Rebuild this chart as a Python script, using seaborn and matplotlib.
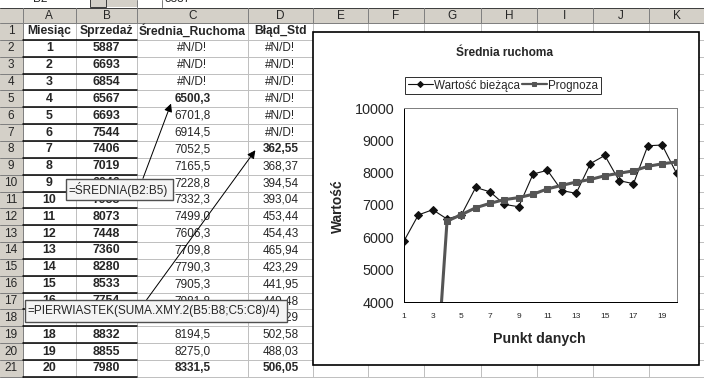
import matplotlib
matplotlib.use("Agg")
import matplotlib.pyplot as plt
from matplotlib.patches import Rectangle
import seaborn as sns
import pandas as pd

# dane z arkusza
miesiac = list(range(1, 21))
sprzedaz = [5887, 6693, 6854, 6567, 6693, 7544, 7406, 7019, 6946, 7958,
            8073, 7448, 7360, 8280, 8533, 7754, 7659, 8832, 8855, 7980]
srednia = [None, None, None, 6500.3, 6701.8, 6914.5, 7052.5, 7165.5, 7228.8, 7332.3,
           7499.0, 7606.3, 7709.8, 7790.3, 7905.3, 7981.8, 8056.5, 8194.5, 8275.0, 8331.5]
blad_std = [None, None, None, None, None, None, 362.55, 368.37, 394.54, 393.04,
            453.44, 454.43, 465.94, 423.29, 441.95, 449.48, 459.29, 502.58, 488.03, 506.05]
naglowki = ['Miesiąc', 'Sprzedaż', 'Średnia_Ruchoma', 'Błąd_Std']
kolumny = ['A', 'B', 'C', 'D', 'E', 'F', 'G', 'H', 'I', 'J', 'K']
y_ticks = [4000, 5000, 6000, 7000, 8000, 9000, 10000]
x_labels = [1, 3, 5, 7, 9, 11, 13, 15, 17, 19]

sns.set_style('white')
plt.rcParams['font.family'] = ['Liberation Sans', 'DejaVu Sans']

fig = plt.figure(figsize=(7.04, 3.78), dpi=100)
fig.patch.set_facecolor('white')

# ---- arkusz (wspolrzedne w pikselach) ----
sh = fig.add_axes([0, 0, 1, 1])
sh.set_xlim(0, 704)
sh.set_ylim(378, 0)
sh.axis('off')

xs = [0, 22.5, 76, 137, 248, 313, 368, 424, 481, 537, 593, 649, 705]
top = 23
rh = 16.85
szary = '#d4d0c8'
px = 0.72  # 1 piksel w punktach


def yc(r):
    return top + (r - 0.5) * rh


# pasek formuly
sh.add_patch(Rectangle((90, -6), 16, 12.5, fc=szary, ec='#404040', lw=px))
sh.add_patch(Rectangle((107, -6), 30, 12.5, fc=szary, ec='none'))
sh.plot([137, 137], [0, 7], color='#808080', lw=px)
sh.plot([162, 162], [0, 7], color='#808080', lw=px)
sh.text(40, -1.5, 'B2', ha='center', va='center', fontsize=8.5)
sh.text(164, -1.5, '5887', ha='left', va='center', fontsize=8.5)
sh.plot([0, 704], [7.5, 7.5], color='#404040', lw=px)

# naglowki kolumn i wierszy
sh.add_patch(Rectangle((0, 8), 704, top - 8, fc=szary, ec='none'))
sh.add_patch(Rectangle((0, top), xs[1], 378 - top, fc=szary, ec='none'))
for i, k in enumerate(kolumny):
    sh.text((xs[i + 1] + xs[i + 2]) / 2, 15.8, k, ha='center', va='center', fontsize=8.5)
for x in xs[1:]:
    sh.plot([x, x], [8, top], color='#808080', lw=px)
sh.plot([0, 704], [top, top], color='#808080', lw=px)
for r in range(1, 22):
    sh.text(11, yc(r), str(r), ha='center', va='center', fontsize=8.5)
    sh.plot([0, xs[1]], [top + r * rh, top + r * rh], color='#808080', lw=px)
sh.plot([xs[1], xs[1]], [top, 378], color='#808080', lw=px)

# siatka komorek
for x in xs[2:]:
    sh.plot([x, x], [top, 378], color='#c0c0c0', lw=px, zorder=1)
for r in range(1, 22):
    sh.plot([xs[1], 704], [top + r * rh, top + r * rh], color='#c0c0c0', lw=px, zorder=1)
# obramowania kolumn A-B
for r in range(1, 22):
    sh.plot([xs[1], xs[3]], [top + r * rh, top + r * rh], color='black', lw=1.1, zorder=2)

# tresc komorek
cx = [(xs[i] + xs[i + 1]) / 2 for i in range(1, 5)]
for i, h in enumerate(naglowki):
    sh.text(cx[i], yc(1), h, ha='center', va='center', fontsize=8.7, weight='bold')
for i in range(20):
    r = i + 2
    sh.text(cx[0], yc(r), str(miesiac[i]), ha='center', va='center', fontsize=8.9, weight='bold')
    sh.text(cx[1], yc(r), str(sprzedaz[i]), ha='center', va='center', fontsize=8.9, weight='bold')
    s = '#N/D!' if srednia[i] is None else f"{srednia[i]:.1f}".replace('.', ',')
    b = '#N/D!' if blad_std[i] is None else f"{blad_std[i]:.2f}".replace('.', ',')
    ws = 'bold' if r in (5, 21) else 'normal'
    wb = 'bold' if r in (8, 21) else 'normal'
    sh.text(cx[2], yc(r), s, ha='center', va='center', fontsize=8.5, weight=ws)
    sh.text(cx[3], yc(r), b, ha='center', va='center', fontsize=8.5, weight=wb)

# objasnienia ze strzalkami
sh.annotate('', xy=(172, 101), xytext=(142, 181),
            arrowprops=dict(arrowstyle='-|>', color='black', lw=px, mutation_scale=12))
sh.annotate('', xy=(257, 148), xytext=(145, 302),
            arrowprops=dict(arrowstyle='-|>', color='black', lw=px, mutation_scale=12))
sh.add_patch(Rectangle((66, 179), 107, 21, fc='#f4f4f4', ec='#505050', lw=1.0, zorder=5))
sh.text(68, 189.5, '=ŚREDNIA(B2:B5)', ha='left', va='center', fontsize=8.5, zorder=6)
sh.add_patch(Rectangle((25, 300), 262, 22, fc='#f4f4f4', ec='#505050', lw=1.0, zorder=5))
sh.text(27, 311, '=PIERWIASTEK(SUMA.XMY.2(B5:B8;C5:C8)/4)', ha='left', va='center',
        fontsize=8.5, zorder=6)

# ramka wykresu
sh.add_patch(Rectangle((313, 32), 386, 333, fc='white', ec='black', lw=1.2, zorder=3))
sh.text(505, 53, 'Średnia ruchoma', ha='center', va='center', fontsize=8.6,
        weight='bold', zorder=4)
sh.text(338, 206, 'Wartość', ha='center', va='center', fontsize=9.9, weight='bold',
        rotation=90, zorder=4)
sh.text(539, 339, 'Punkt danych', ha='center', va='center', fontsize=10.2,
        weight='bold', zorder=4)

# ---- wykres ----
ax = fig.add_axes([404 / 704, 1 - 302 / 378, 272.5 / 704, 194 / 378])
ax.set_facecolor('none')
prognoza = [0 if v is None else v for v in srednia]  # Excel: tekst #N/D! -> 0
df = pd.DataFrame({'Punkt': miesiac, 'Wartość bieżąca': sprzedaz, 'Prognoza': prognoza})

sns.lineplot(data=df, x='Punkt', y='Wartość bieżąca', ax=ax, color='#111111', lw=0.8,
             marker='D', markersize=4.4, markeredgecolor='#111111',
             label='Wartość bieżąca')
sns.lineplot(data=df, x='Punkt', y='Prognoza', ax=ax, color='#555555', lw=2.2,
             marker='s', markersize=4.4, markeredgecolor='#555555', label='Prognoza')

ax.set_xlim(1, 20)
ax.set_ylim(4000, 10000)
ax.set_xticks(miesiac)
ax.set_xticklabels([str(m) if m in x_labels else '' for m in miesiac], fontsize=6)
ax.set_yticks(y_ticks)
ax.set_yticklabels([str(v) for v in y_ticks], fontsize=10.4)
ax.tick_params(axis='both', direction='inout', length=6, width=px, color='black')
ax.tick_params(axis='x', pad=5)
ax.tick_params(axis='y', pad=4)
ax.set_xlabel('')
ax.set_ylabel('')
for s in ['left', 'bottom']:
    ax.spines[s].set_color('black')
    ax.spines[s].set_linewidth(px)
for s in ['top', 'right']:
    ax.spines[s].set_visible(True)
    ax.spines[s].set_color('#808080')
    ax.spines[s].set_linewidth(px)

leg = ax.legend(loc='center', bbox_to_anchor=(503 / 704, 1 - 85.5 / 378),
                bbox_transform=fig.transFigure, ncol=2, fontsize=8.4, frameon=True,
                fancybox=False, handlelength=2.2, handletextpad=0.1, columnspacing=0.1,
                borderpad=0.25, borderaxespad=0, markerscale=0.7)
leg.get_frame().set_edgecolor('black')
leg.get_frame().set_linewidth(px)
for line in leg.get_lines():
    line.set_linewidth(min(line.get_linewidth(), 1.6))

fig.savefig('out.png', dpi=100, facecolor='white')
